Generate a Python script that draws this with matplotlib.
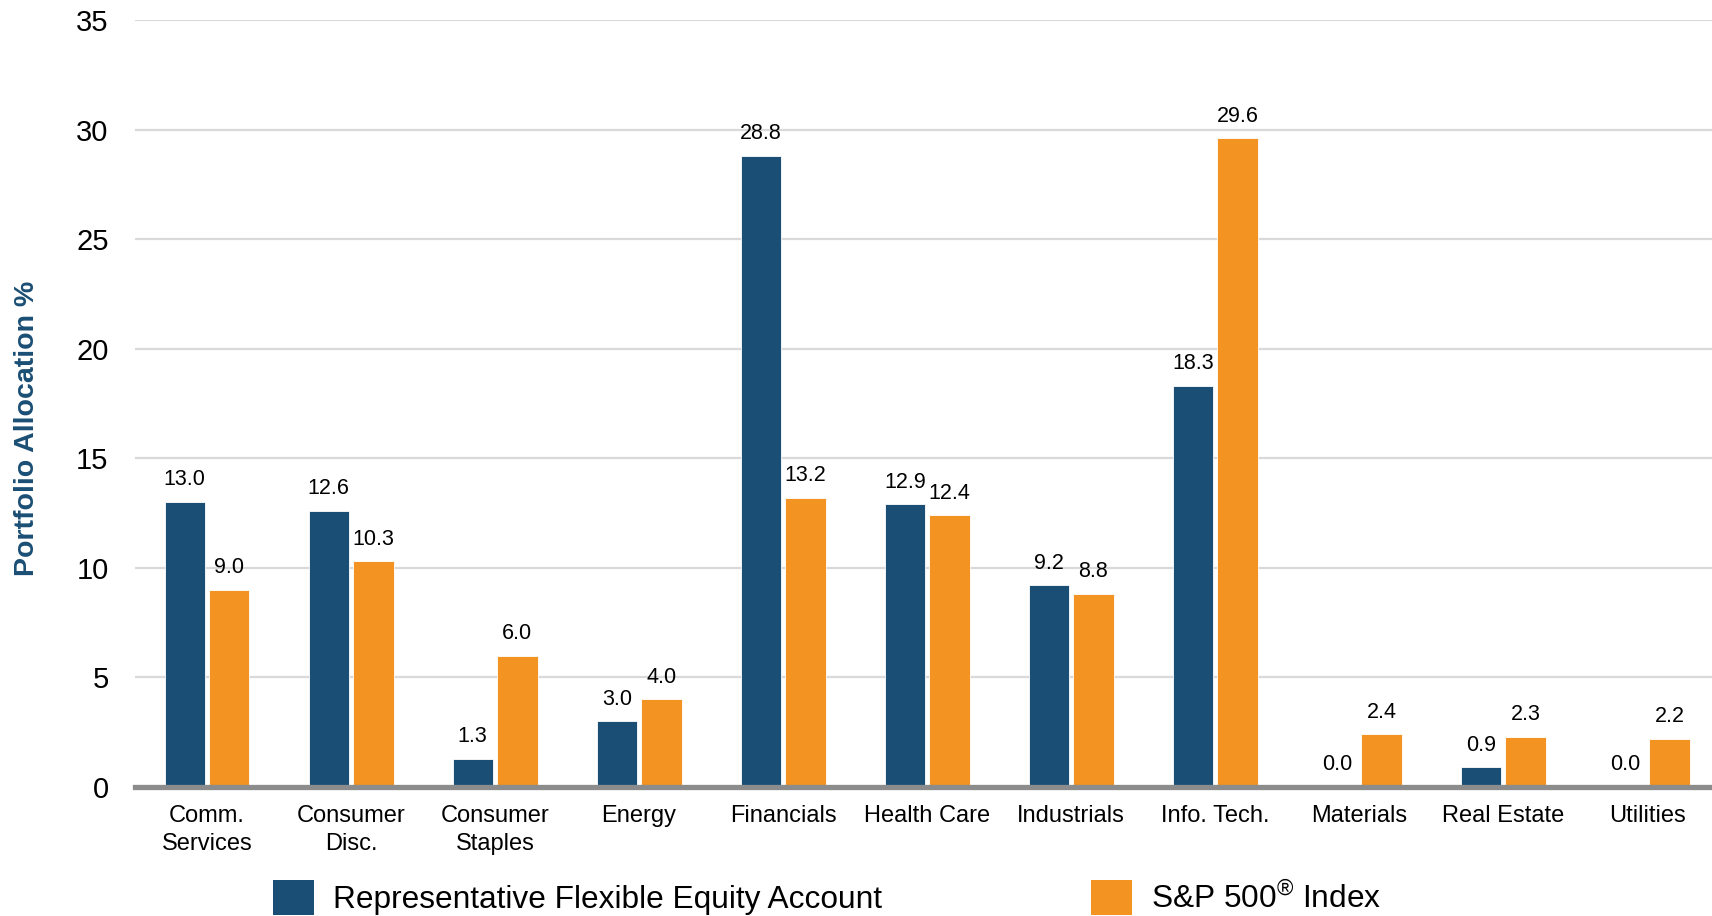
import matplotlib
matplotlib.use("Agg")
import matplotlib.pyplot as plt
from matplotlib.patches import Patch
import numpy as np

plt.rcParams['font.family'] = ['Liberation Sans', 'DejaVu Sans']
plt.rcParams['mathtext.fontset'] = 'custom'
plt.rcParams['mathtext.rm'] = 'Liberation Sans'
plt.rcParams['mathtext.it'] = 'Liberation Sans:italic'
plt.rcParams['mathtext.bf'] = 'Liberation Sans:bold'

categories = ["Comm.\nServices", "Consumer\nDisc.", "Consumer\nStaples", "Energy",
              "Financials", "Health Care", "Industrials", "Info. Tech.",
              "Materials", "Real Estate", "Utilities"]
fund = [13.0, 12.6, 1.3, 3.0, 28.8, 12.9, 9.2, 18.3, 0.0, 0.9, 0.0]
sp500 = [9.0, 10.3, 6.0, 4.0, 13.2, 12.4, 8.8, 29.6, 2.4, 2.3, 2.2]
series_names = ["Representative Flexible Equity Account", "S&P $\\mathrm{500}^{\u00ae}$ Index"]
yticks = [0, 5, 10, 15, 20, 25, 30, 35]

BLUE = "#1B4E74"
ORANGE = "#F39321"

W, H = 1712, 916
fig = plt.figure(figsize=(W / 100, H / 100), dpi=100)
ax = fig.add_axes([135 / W, 1 - 787 / H, 1 - 135 / W, (787 - 20) / H])

x = np.arange(len(categories))
bw = 0.28
off = 0.155
b1 = ax.bar(x - off, fund, bw, color=BLUE, edgecolor="white", linewidth=0.6, zorder=3)
b2 = ax.bar(x + off, sp500, bw, color=ORANGE, edgecolor="white", linewidth=0.6, zorder=3)

for bars, vals in ((b1, fund), (b2, sp500)):
    for r, v in zip(bars, vals):
        ax.annotate(f"{v:.1f}", (r.get_x() + r.get_width() / 2, v),
                    xytext=(0, 16), textcoords="offset points",
                    ha="center", va="center", fontsize=15.5, color="black")

ax.set_xlim(-0.5, len(categories) - 0.5 - 0.05)
ax.set_ylim(0, 35)
ax.set_yticks(yticks)
ax.set_yticklabels([str(t) for t in yticks], fontsize=21)
ax.set_xticks(x)
ax.set_xticklabels(categories, fontsize=17, linespacing=1.35)
ax.tick_params(axis="both", length=0)
ax.tick_params(axis="y", pad=19)
ax.tick_params(axis="x", pad=13)
for s in ax.spines.values():
    s.set_visible(False)
ax.grid(axis="y", color="#D9D9D9", linewidth=1.6, zorder=0)
ax.axhline(0, color="#8C8C8C", linewidth=3.8, zorder=4, clip_on=False)

fig.text(27 / W, 1 - 428 / H, "Portfolio Allocation %", rotation=90,
         ha="center", va="center", fontsize=20.5, fontweight="bold", color=BLUE)

handles = [Patch(facecolor=BLUE), Patch(facecolor=ORANGE)]
fig.legend(handles, series_names, loc="upper left", bbox_to_anchor=(273 / W, 1 - 880 / H),
           ncol=2, frameon=False, fontsize=22.8, handlelength=1.3, handleheight=1.3,
           handletextpad=0.6, columnspacing=6.6, borderpad=0, borderaxespad=0)

fig.savefig("out.png", dpi=100)
